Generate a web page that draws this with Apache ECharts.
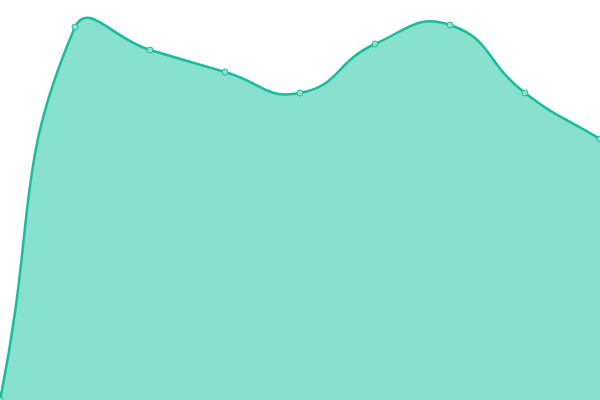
<!DOCTYPE html>
<html><head><meta charset="utf-8">
<script src="https://cdn.jsdelivr.net/npm/echarts@6/dist/echarts.min.js"></script>
<style>html,body{margin:0;padding:0;background:#fff}#c{width:600px;height:400px}</style>
</head><body><div id="c"></div>
<script>
const categories = ['1','2','3','4','5','6','7','8','9'];
const values = [0, 373, 350, 328, 307, 356, 375, 307, 261];

// classic cardinal-style smoothing (control points from neighbour vectors)
function smoothPath(pts, smooth, rect) {
  const n = pts.length;
  const cps = pts.map((p, i) => {
    const prev = pts[i - 1] || p, next = pts[i + 1] || p;
    const vx = (next[0] - prev[0]) * smooth, vy = (next[1] - prev[1]) * smooth;
    let d0 = Math.hypot(p[0] - prev[0], p[1] - prev[1]);
    let d1 = Math.hypot(p[0] - next[0], p[1] - next[1]);
    const s = d0 + d1;
    if (s) { d0 /= s; d1 /= s; }
    const clamp = (x, y) => [Math.min(Math.max(x, rect.x), rect.x + rect.width),
                             Math.min(Math.max(y, rect.y), rect.y + rect.height)];
    return { a: clamp(p[0] - vx * d0, p[1] - vy * d0), b: clamp(p[0] + vx * d1, p[1] + vy * d1) };
  });
  let d = 'M' + pts[0][0] + ' ' + pts[0][1];
  for (let i = 1; i < n; i++) {
    const c1 = cps[i - 1].b, c2 = cps[i].a, p = pts[i];
    d += ' C' + c1[0] + ' ' + c1[1] + ' ' + c2[0] + ' ' + c2[1] + ' ' + p[0] + ' ' + p[1];
  }
  return d;
}

const chart = echarts.init(document.getElementById('c'));
chart.setOption({
  animation: false,
  grid: {left: 0, right: 0, top: 0, bottom: 0},
  xAxis: {type: 'category', data: categories, boundaryGap: false, show: false},
  yAxis: {type: 'value', min: 0, max: 400, show: false},
  series: [{
    type: 'custom',
    clip: true,
    data: values.map((v, i) => [i, v]),
    encode: {x: 0, y: 1},
    renderItem: function (params, api) {
      const idx = params.dataIndex;
      const pt = api.coord([idx, api.value(1)]);
      const children = [];
      if (idx === 0) {
        const pts = values.map((v, i) => api.coord([i, v]));
        const cs = params.coordSys;
        const d = smoothPath(pts, 0.5, cs);
        const b0 = api.coord([0, 0]), bN = api.coord([values.length - 1, 0]);
        children.push({type: 'path', shape: {pathData: d + ' L' + bN[0] + ' ' + bN[1] + ' L' + b0[0] + ' ' + b0[1] + ' Z'},
          style: {fill: '#88e0cf', stroke: null}});
        children.push({type: 'path', shape: {pathData: d},
          style: {fill: null, stroke: '#1abc9c', lineWidth: 2.5}});
      }
      children.push({type: 'circle', shape: {cx: pt[0], cy: pt[1], r: 3},
        style: {fill: '#8fe2d2', stroke: '#1abc9c', lineWidth: 1}});
      return {type: 'group', children: children};
    }
  }]
});
</script></body></html>
